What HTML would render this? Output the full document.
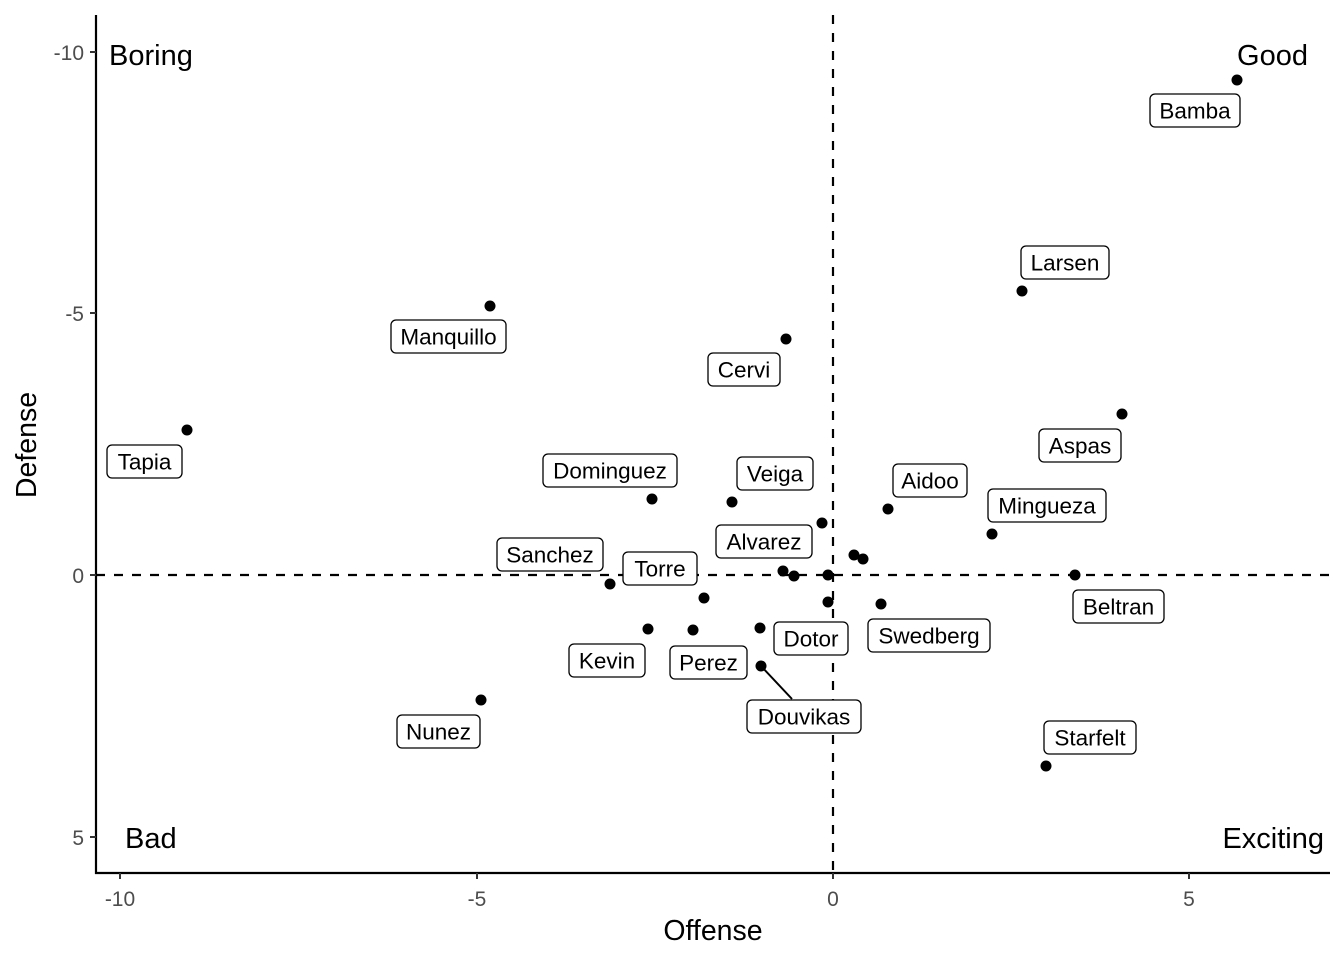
<!DOCTYPE html>
<html><head><meta charset="utf-8"><style>html,body{margin:0;padding:0;background:#fff}svg{display:block}</style></head>
<body>
<svg width="1344" height="960" xmlns="http://www.w3.org/2000/svg" font-family="Liberation Sans, Arial, sans-serif">
<rect width="1344" height="960" fill="#fff"/>
<line x1="96" y1="575" x2="1330" y2="575" stroke="#000" stroke-width="2.2" stroke-dasharray="9,9"/>
<line x1="833" y1="15" x2="833" y2="873" stroke="#000" stroke-width="2.2" stroke-dasharray="9,9"/>
<line x1="96" y1="15" x2="96" y2="874" stroke="#000" stroke-width="2.2"/>
<line x1="95" y1="873" x2="1330" y2="873" stroke="#000" stroke-width="2.2"/>
<g stroke="#333" stroke-width="2">
<line x1="90" y1="52" x2="96" y2="52"/><line x1="90" y1="313" x2="96" y2="313"/><line x1="90" y1="575" x2="96" y2="575"/><line x1="90" y1="837" x2="96" y2="837"/>
<line x1="120" y1="873" x2="120" y2="879"/><line x1="477" y1="873" x2="477" y2="879"/><line x1="833" y1="873" x2="833" y2="879"/><line x1="1189" y1="873" x2="1189" y2="879"/>
</g>
<g font-size="21" fill="#4d4d4d" text-anchor="end">
<text x="84" y="60">-10</text><text x="84" y="321">-5</text><text x="84" y="583">0</text><text x="84" y="845">5</text>
</g>
<g font-size="21" fill="#4d4d4d" text-anchor="middle">
<text x="120" y="906">-10</text><text x="477" y="906">-5</text><text x="833" y="906">0</text><text x="1189" y="906">5</text>
</g>
<text x="713" y="940" font-size="28.5" text-anchor="middle">Offense</text>
<text transform="translate(36,445) rotate(-90)" font-size="28.5" text-anchor="middle">Defense</text>
<g font-size="29">
<text x="109" y="65">Boring</text>
<text x="1308" y="65" text-anchor="end">Good</text>
<text x="125" y="848">Bad</text>
<text x="1324" y="848" text-anchor="end">Exciting</text>
</g>
<line x1="761" y1="666" x2="792" y2="699" stroke="#000" stroke-width="2"/>
<g fill="#000">
<circle cx="1237" cy="80" r="5.5"/><circle cx="1022" cy="291" r="5.5"/><circle cx="490" cy="306" r="5.5"/>
<circle cx="786" cy="339" r="5.5"/><circle cx="187" cy="430" r="5.5"/><circle cx="1122" cy="414" r="5.5"/>
<circle cx="652" cy="499" r="5.5"/><circle cx="732" cy="502" r="5.5"/><circle cx="888" cy="509" r="5.5"/>
<circle cx="992" cy="534" r="5.5"/><circle cx="822" cy="523" r="5.5"/><circle cx="854" cy="555" r="5.5"/>
<circle cx="863" cy="559" r="5.5"/><circle cx="783" cy="571" r="5.5"/><circle cx="794" cy="576" r="5.5"/>
<circle cx="828" cy="575" r="5.5"/><circle cx="1075" cy="575" r="5.5"/><circle cx="610" cy="584" r="5.5"/>
<circle cx="704" cy="598" r="5.5"/><circle cx="828" cy="602" r="5.5"/><circle cx="881" cy="604" r="5.5"/>
<circle cx="648" cy="629" r="5.5"/><circle cx="693" cy="630" r="5.5"/><circle cx="760" cy="628" r="5.5"/>
<circle cx="761" cy="666" r="5.5"/><circle cx="481" cy="700" r="5.5"/><circle cx="1046" cy="766" r="5.5"/>
</g>
<g fill="#fff" stroke="#000" stroke-width="1.3">
<rect x="1150" y="94" width="90" height="33" rx="5"/>
<rect x="1021" y="246" width="88" height="33" rx="5"/>
<rect x="391" y="320" width="115" height="33" rx="5"/>
<rect x="708" y="353" width="72" height="33" rx="5"/>
<rect x="107" y="445" width="75" height="33" rx="5"/>
<rect x="1039" y="429" width="82" height="33" rx="5"/>
<rect x="543" y="454" width="134" height="33" rx="5"/>
<rect x="737" y="457" width="76" height="33" rx="5"/>
<rect x="893" y="464" width="74" height="33" rx="5"/>
<rect x="988" y="489" width="118" height="33" rx="5"/>
<rect x="716" y="525" width="96" height="33" rx="5"/>
<rect x="497" y="538" width="106" height="33" rx="5"/>
<rect x="623" y="552" width="74" height="33" rx="5"/>
<rect x="1073" y="590" width="91" height="33" rx="5"/>
<rect x="868" y="619" width="122" height="33" rx="5"/>
<rect x="774" y="622" width="74" height="33" rx="5"/>
<rect x="569" y="644" width="76" height="33" rx="5"/>
<rect x="670" y="646" width="77" height="33" rx="5"/>
<rect x="747" y="700" width="114" height="33" rx="5"/>
<rect x="397" y="715" width="83" height="33" rx="5"/>
<rect x="1044" y="721" width="92" height="33" rx="5"/>
</g>
<g font-size="22.5" text-anchor="middle" fill="#000">
<text x="1195" y="118.5">Bamba</text>
<text x="1065" y="270.5">Larsen</text>
<text x="448.5" y="344.5">Manquillo</text>
<text x="744" y="377.5">Cervi</text>
<text x="144.5" y="469.5">Tapia</text>
<text x="1080" y="453.5">Aspas</text>
<text x="610" y="478.5">Dominguez</text>
<text x="775" y="481.5">Veiga</text>
<text x="930" y="488.5">Aidoo</text>
<text x="1047" y="513.5">Mingueza</text>
<text x="764" y="549.5">Alvarez</text>
<text x="550" y="562.5">Sanchez</text>
<text x="660" y="576.5">Torre</text>
<text x="1118.5" y="614.5">Beltran</text>
<text x="929" y="643.5">Swedberg</text>
<text x="811" y="646.5">Dotor</text>
<text x="607" y="668.5">Kevin</text>
<text x="708.5" y="670.5">Perez</text>
<text x="804" y="724.5">Douvikas</text>
<text x="438.5" y="739.5">Nunez</text>
<text x="1090" y="745.5">Starfelt</text>
</g>
</svg>
</body></html>
